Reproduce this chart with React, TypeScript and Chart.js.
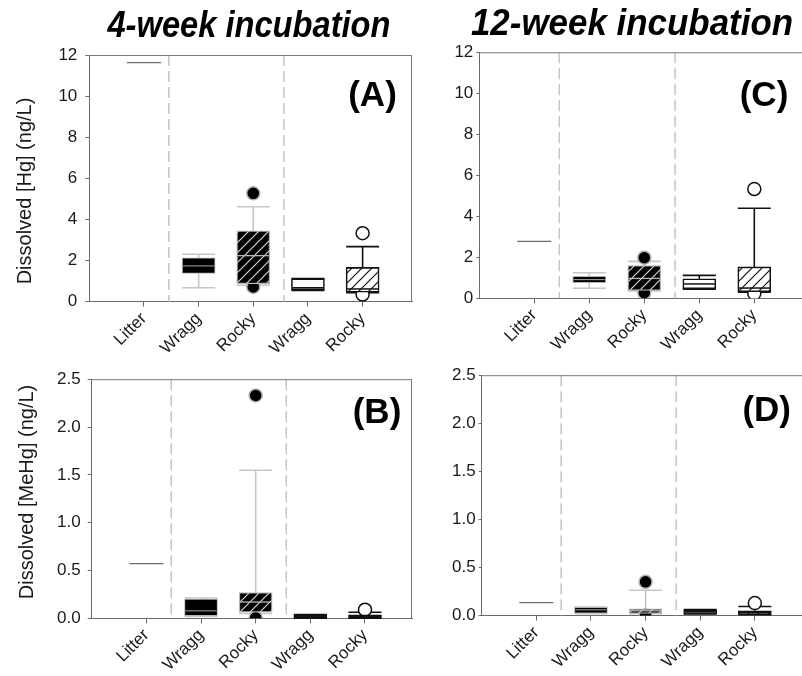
import React, { useEffect, useRef } from "react";
import { Chart, registerables } from "chart.js";
Chart.register(...registerables);

const categories = ["Litter", "Wragg", "Rocky", "Wragg", "Rocky"];
const separatorPositions = [1.455, 3.56];
const hgTicks = [0, 2, 4, 6, 8, 10, 12];
const mehgTicks = [0, 0.5, 1.0, 1.5, 2.0, 2.5];

// Panel A: dissolved Hg, 4-week incubation
const hg4Min = [null, 0.68, 0.8, 0.55, 0.44];
const hg4Q1 = [null, 1.38, 0.87, 0.58, 0.46];
const hg4Median = [11.63, 1.74, 2.24, 0.68, 0.62];
const hg4Q3 = [null, 2.14, 3.45, 1.12, 1.67];
const hg4Max = [null, 2.31, 4.62, 1.13, 2.68];
const hg4Outliers = [[], [], [5.27, 0.72], [], [3.33, 0.35]];

// Panel C: dissolved Hg, 12-week incubation
const hg12Min = [null, 0.49, 0.36, 0.45, 0.3];
const hg12Q1 = [null, 0.76, 0.38, 0.47, 0.32];
const hg12Median = [2.78, 0.91, 0.97, 0.7, 0.5];
const hg12Q3 = [null, 1.07, 1.6, 0.95, 1.53];
const hg12Max = [null, 1.25, 1.8, 1.12, 4.39];
const hg12Outliers = [[], [], [1.98, 0.27], [], [5.33, 0.24]];

// Panel B: dissolved MeHg, 4-week incubation
const mehg4Min = [null, 0.02, 0.05, 0.0, 0.0];
const mehg4Q1 = [null, 0.027, 0.064, 0.005, 0.005];
const mehg4Median = [0.571, 0.078, 0.17, 0.02, 0.02];
const mehg4Q3 = [null, 0.2, 0.27, 0.035, 0.035];
const mehg4Max = [null, 0.213, 1.548, 0.04, 0.064];
const mehg4Outliers = [[], [], [2.33, 0.005], [], [0.09]];

// Panel D: dissolved MeHg, 12-week incubation
const mehg12Min = [null, 0.02, 0.02, 0.018, 0.01];
const mehg12Q1 = [null, 0.026, 0.023, 0.02, 0.012];
const mehg12Median = [0.134, 0.06, 0.05, 0.04, 0.035];
const mehg12Q3 = [null, 0.085, 0.07, 0.06, 0.05];
const mehg12Max = [null, 0.09, 0.263, 0.062, 0.094];
const mehg12Outliers = [[], [], [0.351, 0.0], [], [0.13]];

const FONT = '"Liberation Sans", Arial, Helvetica, sans-serif';
const PX_PER_CAT = 55;
const BOX_W = 33;

type Style = {
  fill: string;
  border: string;
  borderW: number;
  whisker: string;
  median: string;
  medianW: number;
  outFill: string;
  outStroke: string;
};
const boxStyles: (Style | null)[] = [
  null,
  { fill: "black", border: "#b5b5b5", borderW: 1, whisker: "#c6c6c6", median: "#a8a8a8", medianW: 1, outFill: "#000", outStroke: "#b0b0b0" },
  { fill: "hatchBlack", border: "#b5b5b5", borderW: 1.3, whisker: "#c6c6c6", median: "#b8b8b8", medianW: 1.3, outFill: "#000", outStroke: "#b0b0b0" },
  { fill: "white", border: "#111", borderW: 1.6, whisker: "#111", median: "#111", medianW: 1.5, outFill: "#fff", outStroke: "#111" },
  { fill: "hatchWhite", border: "#111", borderW: 1.6, whisker: "#111", median: "#111", medianW: 1.5, outFill: "#fff", outStroke: "#111" },
];

type Panel = {
  key: string;
  min: (number | null)[];
  q1: (number | null)[];
  med: number[];
  q3: (number | null)[];
  max: (number | null)[];
  outliers: number[][];
  yTicks: number[];
  decimals: number;
  yTitle: string | null;
  yTitlePos: { x: number; y: number };
  tickPad: number;
  tickLen: number;
  plot: { l: number; t: number; r: number; b: number };
  box: { l: number; t: number; w: number; h: number };
};

const panels: Panel[] = [
  {
    key: "A", min: hg4Min, q1: hg4Q1, med: hg4Median, q3: hg4Q3, max: hg4Max, outliers: hg4Outliers,
    yTicks: hgTicks, decimals: 0, yTitle: "Dissolved [Hg] (ng/L)", yTitlePos: { x: 25, y: 191 }, tickPad: 8, tickLen: 4,
    plot: { l: 89.3, t: 55, r: 414, b: 301.7 }, box: { l: 0, t: 0, w: 420, h: 362 },
  },
  {
    key: "B", min: mehg4Min, q1: mehg4Q1, med: mehg4Median, q3: mehg4Q3, max: mehg4Max, outliers: mehg4Outliers,
    yTicks: mehgTicks, decimals: 1, yTitle: "Dissolved [MeHg] (ng/L)", yTitlePos: { x: 27, y: 492 }, tickPad: 7, tickLen: 4,
    plot: { l: 91.7, t: 371.7, r: 414, b: 618.3 }, box: { l: 0, t: 362, w: 420, h: 314 },
  },
  {
    key: "C", min: hg12Min, q1: hg12Q1, med: hg12Median, q3: hg12Q3, max: hg12Max, outliers: hg12Outliers,
    yTicks: hgTicks, decimals: 0, yTitle: null, yTitlePos: { x: 0, y: 0 }, tickPad: 3, tickLen: 3,
    plot: { l: 479.3, t: 52.3, r: 803.8, b: 298.3 }, box: { l: 420, t: 0, w: 392, h: 362 },
  },
  {
    key: "D", min: mehg12Min, q1: mehg12Q1, med: mehg12Median, q3: mehg12Q3, max: mehg12Max, outliers: mehg12Outliers,
    yTicks: mehgTicks, decimals: 1, yTitle: null, yTitlePos: { x: 0, y: 0 }, tickPad: 3, tickLen: 3,
    plot: { l: 481.7, t: 369, r: 806.2, b: 615.6 }, box: { l: 420, t: 362, w: 392, h: 314 },
  },
];

function makeHatch(bg: string, fg: string): CanvasPattern | string {
  const s = 10;
  const c = document.createElement("canvas");
  c.width = s;
  c.height = s;
  const g = c.getContext("2d");
  if (!g) return bg;
  g.fillStyle = bg;
  g.fillRect(0, 0, s, s);
  g.strokeStyle = fg;
  g.lineWidth = 1.2;
  g.beginPath();
  g.moveTo(0, s);
  g.lineTo(s, 0);
  g.moveTo(-2, 2);
  g.lineTo(2, -2);
  g.moveTo(s - 2, s + 2);
  g.lineTo(s + 2, s - 2);
  g.stroke();
  const p = g.createPattern(c, "repeat");
  return p || bg;
}

function buildConfig(p: Panel): any {
  const hatchBlack = makeHatch("#000", "#d4d4d4");
  const hatchWhite = makeHatch("#fff", "#111");
  const fillFor = (f: string) => (f === "hatchBlack" ? hatchBlack : f === "hatchWhite" ? hatchWhite : f);

  const barIdx = [1, 2, 3, 4];
  const bars = barIdx.map((i) => ({ x: i + 1, y: [p.q1[i] as number, p.q3[i] as number] }));
  const barBg = barIdx.map((i) => fillFor((boxStyles[i] as Style).fill));
  const barBorder = barIdx.map((i) => (boxStyles[i] as Style).border);
  const barBorderW = barIdx.map((i) => (boxStyles[i] as Style).borderW);

  const outPts: { x: number; y: number }[] = [];
  const outFill: string[] = [];
  const outStroke: string[] = [];
  p.outliers.forEach((arr, i) =>
    arr.forEach((v) => {
      outPts.push({ x: i + 1, y: v });
      outFill.push((boxStyles[i] as Style).outFill);
      outStroke.push((boxStyles[i] as Style).outStroke);
    })
  );

  const yAxisW = p.plot.l - p.box.l;
  const xAxisH = p.box.t + p.box.h - p.plot.b;
  const padTop = p.plot.t - p.box.t;
  const padRight = p.box.l + p.box.w - p.plot.r;
  const xMax = (p.plot.r - p.plot.l) / PX_PER_CAT;

  const line = (ctx: CanvasRenderingContext2D, x1: number, y1: number, x2: number, y2: number) => {
    ctx.beginPath();
    ctx.moveTo(x1, y1);
    ctx.lineTo(x2, y2);
    ctx.stroke();
  };

  const plugin = {
    id: "boxplot" + p.key,
    beforeDatasetsDraw(chart: any) {
      const { ctx, chartArea: a, scales } = chart;
      const x = scales.x;
      const y = scales.y;
      ctx.save();
      ctx.strokeStyle = "#c4c4c4";
      ctx.lineWidth = 1.5;
      ctx.setLineDash([11, 5]);
      separatorPositions.forEach((s) => {
        const px = x.getPixelForValue(s);
        line(ctx, px, a.top, px, a.bottom);
      });
      ctx.setLineDash([]);
      // single-sample litter value
      const lx = x.getPixelForValue(1);
      const ly = y.getPixelForValue(p.med[0]);
      ctx.strokeStyle = "#6e6e6e";
      ctx.lineWidth = 1.2;
      line(ctx, lx - 17, ly, lx + 17, ly);
      // whiskers
      for (let i = 1; i < 5; i++) {
        const st = boxStyles[i] as Style;
        const cx = x.getPixelForValue(i + 1);
        ctx.strokeStyle = st.whisker;
        ctx.lineWidth = 1.6;
        const yMax = y.getPixelForValue(p.max[i]);
        const yMin = y.getPixelForValue(p.min[i]);
        const yQ1 = y.getPixelForValue(p.q1[i]);
        const yQ3 = y.getPixelForValue(p.q3[i]);
        line(ctx, cx, yQ3, cx, yMax);
        line(ctx, cx, yQ1, cx, yMin);
        line(ctx, cx - BOX_W / 2, yMax, cx + BOX_W / 2, yMax);
        line(ctx, cx - BOX_W / 2, yMin, cx + BOX_W / 2, yMin);
      }
      ctx.restore();
    },
    afterDatasetsDraw(chart: any) {
      const { ctx, chartArea: a, scales } = chart;
      const x = scales.x;
      const y = scales.y;
      ctx.save();
      for (let i = 1; i < 5; i++) {
        const st = boxStyles[i] as Style;
        const cx = x.getPixelForValue(i + 1);
        const ym = y.getPixelForValue(p.med[i]);
        ctx.strokeStyle = st.median;
        ctx.lineWidth = st.medianW;
        line(ctx, cx - BOX_W / 2 + 1, ym, cx + BOX_W / 2 - 1, ym);
      }
      ctx.strokeStyle = "#7a7a7a";
      ctx.lineWidth = 1;
      line(ctx, a.left, a.top + 0.5, a.right, a.top + 0.5);
      line(ctx, a.right - 0.5, a.top, a.right - 0.5, a.bottom);
      ctx.restore();
    },
    afterDraw(chart: any) {
      if (!p.yTitle) return;
      const ctx = chart.ctx;
      ctx.save();
      ctx.translate(p.yTitlePos.x - p.box.l, p.yTitlePos.y - p.box.t);
      ctx.rotate(-Math.PI / 2);
      ctx.font = `20px ${FONT}`;
      ctx.fillStyle = "#1a1a1a";
      ctx.textAlign = "center";
      ctx.textBaseline = "middle";
      ctx.fillText(p.yTitle, 0, 0);
      ctx.restore();
    },
  };

  return {
    type: "bar",
    data: {
      datasets: [
        {
          type: "bar",
          data: bars,
          backgroundColor: barBg,
          borderColor: barBorder,
          borderWidth: barBorderW,
          borderSkipped: false,
          barThickness: BOX_W,
          grouped: false,
          order: 1,
        },
        {
          type: "scatter",
          data: outPts,
          pointRadius: 6.5,
          pointBackgroundColor: outFill,
          pointBorderColor: outStroke,
          pointBorderWidth: 1.5,
          showLine: false,
          order: 2,
        },
      ],
    },
    options: {
      responsive: false,
      animation: false,
      layout: { padding: { top: padTop, right: padRight, left: 0, bottom: 0 } },
      plugins: { legend: { display: false }, tooltip: { enabled: false } },
      scales: {
        x: {
          type: "linear",
          min: 0,
          max: xMax,
          offset: false,
          afterBuildTicks: (s: any) => {
            s.ticks = categories.map((_, i) => ({ value: i + 1 }));
          },
          afterFit: (s: any) => {
            s.height = xAxisH;
          },
          ticks: {
            autoSkip: false,
            minRotation: 45,
            maxRotation: 45,
            padding: 2,
            color: "#1a1a1a",
            font: { family: FONT, size: 17 },
            callback: (v: any) => categories[Math.round(Number(v)) - 1] ?? "",
          },
          grid: { offset: false, drawOnChartArea: false, drawTicks: true, tickLength: 5, color: "#6a6a6a" },
          border: { color: "#6a6a6a", width: 1 },
        },
        y: {
          type: "linear",
          min: p.yTicks[0],
          max: p.yTicks[p.yTicks.length - 1],
          afterBuildTicks: (s: any) => {
            s.ticks = p.yTicks.map((v) => ({ value: v }));
          },
          afterFit: (s: any) => {
            s.width = yAxisW;
          },
          ticks: {
            padding: p.tickPad,
            color: "#1a1a1a",
            font: { family: FONT, size: 17 },
            callback: (v: any) => Number(v).toFixed(p.decimals),
          },
          grid: { offset: false, drawOnChartArea: false, drawTicks: true, tickLength: p.tickLen, color: "#6a6a6a" },
          border: { color: "#6a6a6a", width: 1 },
          title: { display: false },
        },
      },
    },
    plugins: [plugin],
  };
}

function PanelChart({ panel }: { panel: Panel }) {
  const ref = useRef<HTMLCanvasElement | null>(null);
  useEffect(() => {
    if (!ref.current) return;
    const chart = new Chart(ref.current, buildConfig(panel));
    return () => chart.destroy();
  }, [panel]);
  return (
    <canvas
      ref={ref}
      width={panel.box.w}
      height={panel.box.h}
      style={{ position: "absolute", left: panel.box.l, top: panel.box.t, width: panel.box.w, height: panel.box.h }}
    />
  );
}

const letters = [
  { text: "(A)", cx: 372.5, cy: 96 },
  { text: "(C)", cx: 764, cy: 96 },
  { text: "(B)", cx: 377, cy: 413 },
  { text: "(D)", cx: 766.7, cy: 411 },
];

const titles = [
  { text: "4-week incubation", cx: 249, top: 7, size: 36, sx: 0.907 },
  { text: "12-week incubation", cx: 631.5, top: 5, size: 36, sx: 0.97 },
];

export default function App() {
  return (
    <div
      style={{
        position: "fixed",
        left: 0,
        top: 0,
        width: 802,
        height: 676,
        overflow: "hidden",
        background: "#fff",
      }}
    >
      {panels.map((p) => (
        <PanelChart key={p.key} panel={p} />
      ))}
      {titles.map((t) => (
        <div
          key={t.text}
          style={{
            position: "absolute",
            left: t.cx - 200,
            top: t.top,
            width: 400,
            textAlign: "center",
            fontFamily: FONT,
            fontWeight: "bold",
            fontStyle: "italic",
            fontSize: t.size,
            lineHeight: `${t.size}px`,
            color: "#000",
            transform: `scaleX(${t.sx})`,
            whiteSpace: "nowrap",
          }}
        >
          {t.text}
        </div>
      ))}
      {letters.map((l) => (
        <div
          key={l.text}
          style={{
            position: "absolute",
            left: l.cx - 50,
            top: l.cy - 20.5,
            width: 100,
            textAlign: "center",
            fontFamily: FONT,
            fontWeight: "bold",
            fontSize: 35,
            lineHeight: "35px",
            color: "#000",
            whiteSpace: "nowrap",
          }}
        >
          {l.text}
        </div>
      ))}
    </div>
  );
}
